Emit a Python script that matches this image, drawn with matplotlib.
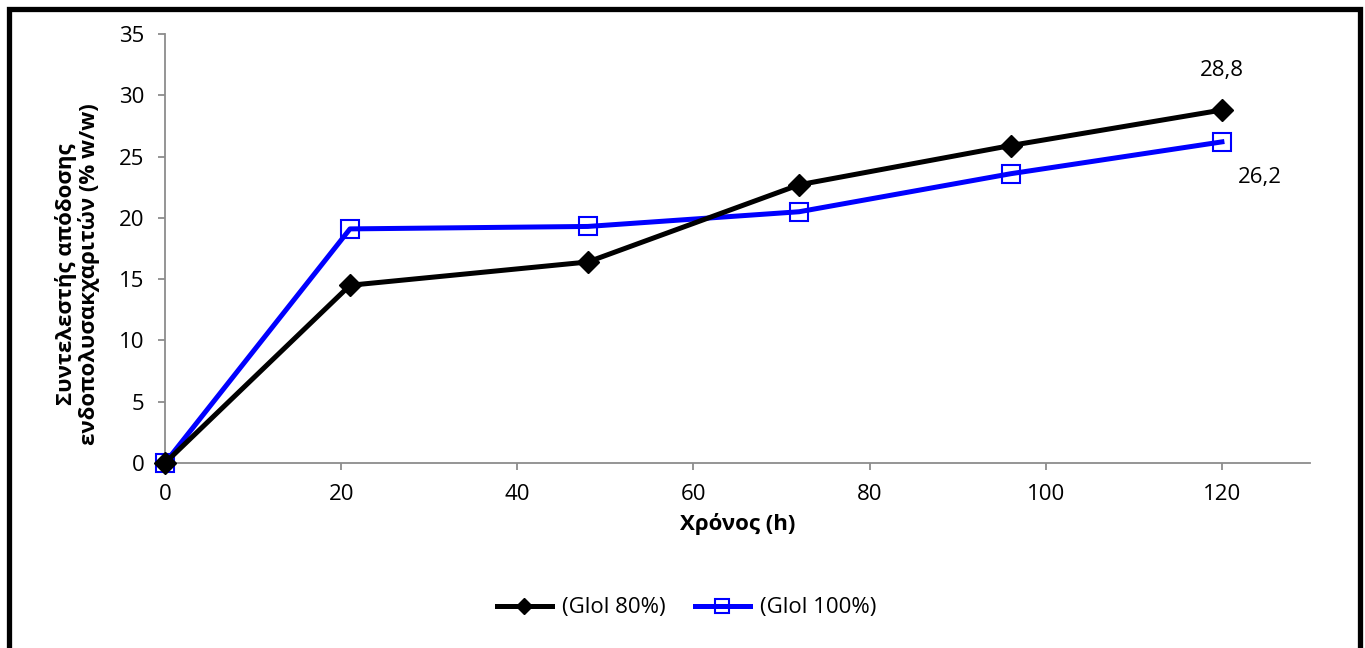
import matplotlib.pyplot as plt
from matplotlib.patches import Rectangle

plt.rcParams['font.family'] = ['Open Sans', 'Noto Sans', 'DejaVu Sans']

# data
hours = [0, 21, 48, 72, 96, 120]
glol80 = [0, 14.5, 16.4, 22.7, 25.9, 28.8]
glol100 = [0, 19.1, 19.3, 20.5, 23.6, 26.2]

fig = plt.figure(figsize=(13.65, 6.48), dpi=100)
ax = fig.add_axes([0.1209, 0.2855, 0.8388, 0.662])

ax.plot(hours, glol100, color='#0000ff', lw=3.6, marker='s', ms=13.5,
        mfc='none', mec='#0000ff', mew=1.5, label='(Glol 100%)', zorder=2, clip_on=False)
ax.plot(hours, glol80, color='black', lw=3.6, marker='D', ms=11,
        label='(Glol 80%)', zorder=3, clip_on=False)

ax.annotate('28,8', (hours[-1], glol80[-1]), xytext=(0, 21), textcoords='offset points',
            ha='center', va='bottom', fontsize=16)
ax.annotate('26,2', (hours[-1], glol100[-1]), xytext=(27, -18), textcoords='offset points',
            ha='center', va='top', fontsize=16)

ax.set_xlim(0, 130)
ax.set_ylim(0, 35)
ax.set_xticks(range(0, 121, 20))
ax.set_yticks(range(0, 36, 5))
for s in ['top', 'right']:
    ax.spines[s].set_visible(False)
for s in ['left', 'bottom']:
    ax.spines[s].set_color('#8c8c8c')
    ax.spines[s].set_linewidth(1.3)
ax.tick_params(colors='#8c8c8c', labelcolor='black', labelsize=16, length=5, width=1.3)
ax.tick_params(axis='x', pad=10)
ax.tick_params(axis='y', pad=10)

ax.set_xlabel('Χρόνος (h)', fontsize=16, fontweight='bold', labelpad=6)
ax.set_ylabel('Συντελεστής απόδοσης\nενδοπολυσακχαριτών (% w/w)', fontsize=16,
              fontweight='bold', linespacing=1.05)
ax.yaxis.set_label_coords(-0.057, 0.44)

handles, labels = ax.get_legend_handles_labels()
fig.legend(handles[::-1], labels[::-1], loc='center', bbox_to_anchor=(0.503, 0.062),
           ncol=2, frameon=False, fontsize=16, handlelength=2.5, columnspacing=1.3,
           handletextpad=0.45, markerscale=0.7)

# outer frame
fig.patches.append(Rectangle((9 / 1365, -0.05), 1351 / 1365, 1.05 - 9 / 648,
                             transform=fig.transFigure, fill=False, lw=3.8,
                             edgecolor='black'))

fig.savefig('out.png', dpi=100)
